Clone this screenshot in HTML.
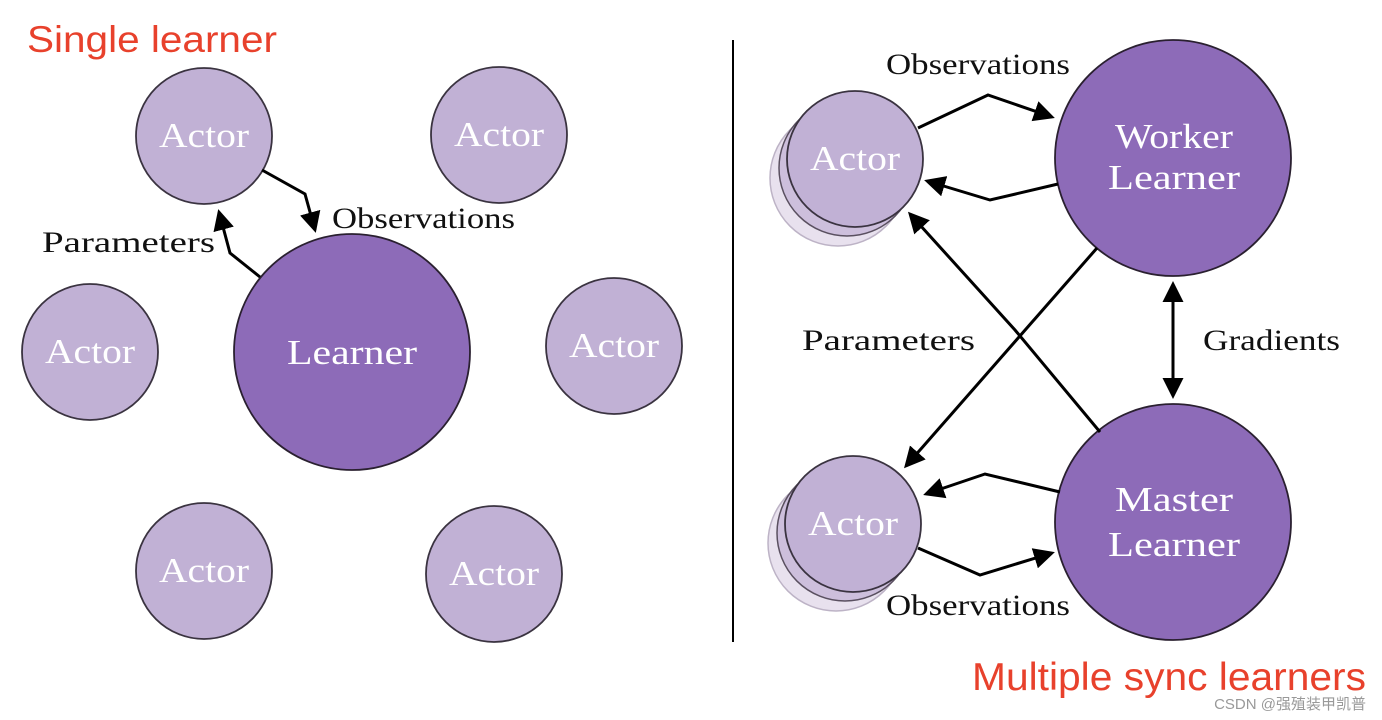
<!DOCTYPE html>
<html><head><meta charset="utf-8"><style>
html,body{margin:0;padding:0;background:#fff;}
svg{display:block;}
.a{fill:#c1b1d5;stroke:#3a3340;stroke-width:1.8;}
.l{fill:#8d6bb8;stroke:#2a2030;stroke-width:1.8;}
.t{font-family:"Liberation Serif",serif;font-size:35px;fill:#fff;text-anchor:middle;}
.k{font-family:"Liberation Serif",serif;font-size:30px;fill:#111;}
.ar{fill:none;stroke:#000;stroke-width:3;marker-end:url(#h);}
</style></head><body>
<svg width="1382" height="720" viewBox="0 0 1382 720">
<defs><marker id="h" markerWidth="8" markerHeight="8" refX="6" refY="4" orient="auto" markerUnits="strokeWidth"><path d="M0,0.5 L7,4 L0,7.5 z" fill="#000"/></marker>
<marker id="hs" markerWidth="8" markerHeight="8" refX="1" refY="4" orient="auto" markerUnits="strokeWidth"><path d="M7,0.5 L0,4 L7,7.5 z" fill="#000"/></marker></defs>
<text x="27" y="52" font-family="Liberation Sans,sans-serif" font-size="37" fill="#e8412c" textLength="250" lengthAdjust="spacingAndGlyphs">Single learner</text>
<text x="972" y="690" font-family="Liberation Sans,sans-serif" font-size="39" fill="#e8412c" textLength="394" lengthAdjust="spacingAndGlyphs">Multiple sync learners</text>
<text x="1366" y="709" text-anchor="end" font-family="Liberation Sans,'Noto Sans CJK SC',sans-serif" font-size="15" fill="#999">CSDN @强殖装甲凯普</text>
<line x1="733" y1="40" x2="733" y2="642" stroke="#000" stroke-width="2"/>
<!-- left -->
<circle class="a" cx="204" cy="136" r="68"/><text class="t" x="204" y="147" textLength="90" lengthAdjust="spacingAndGlyphs">Actor</text>
<circle class="a" cx="499" cy="135" r="68"/><text class="t" x="499" y="146" textLength="90" lengthAdjust="spacingAndGlyphs">Actor</text>
<circle class="a" cx="90" cy="352" r="68"/><text class="t" x="90" y="363" textLength="90" lengthAdjust="spacingAndGlyphs">Actor</text>
<circle class="a" cx="614" cy="346" r="68"/><text class="t" x="614" y="357" textLength="90" lengthAdjust="spacingAndGlyphs">Actor</text>
<circle class="a" cx="204" cy="571" r="68"/><text class="t" x="204" y="582" textLength="90" lengthAdjust="spacingAndGlyphs">Actor</text>
<circle class="a" cx="494" cy="574" r="68"/><text class="t" x="494" y="585" textLength="90" lengthAdjust="spacingAndGlyphs">Actor</text>
<circle class="l" cx="352" cy="352" r="118"/><text class="t" x="352" y="364" textLength="130" lengthAdjust="spacingAndGlyphs">Learner</text>
<polyline class="ar" points="262,170 305,194 315,230"/>
<polyline class="ar" points="260,277 230,253 219,212"/>
<text class="k" x="332" y="228" textLength="183" lengthAdjust="spacingAndGlyphs">Observations</text>
<text class="k" x="42" y="252" textLength="173" lengthAdjust="spacingAndGlyphs">Parameters</text>
<!-- right -->
<circle cx="838" cy="178" r="68" fill="#e8e1ee" stroke="#bdb3c6" stroke-width="1.5"/>
<circle cx="847" cy="168" r="68" fill="#cdbfdc" stroke="#5a5060" stroke-width="1.5"/>
<circle class="a" cx="855" cy="159" r="68"/><text class="t" x="855" y="170" textLength="90" lengthAdjust="spacingAndGlyphs">Actor</text>
<circle cx="836" cy="543" r="68" fill="#e8e1ee" stroke="#bdb3c6" stroke-width="1.5"/>
<circle cx="845" cy="533" r="68" fill="#cdbfdc" stroke="#5a5060" stroke-width="1.5"/>
<circle class="a" cx="853" cy="524" r="68"/><text class="t" x="853" y="535" textLength="90" lengthAdjust="spacingAndGlyphs">Actor</text>
<circle class="l" cx="1173" cy="158" r="118"/><text class="t" x="1174" y="148" textLength="118" lengthAdjust="spacingAndGlyphs">Worker</text><text class="t" x="1174" y="189" textLength="132" lengthAdjust="spacingAndGlyphs">Learner</text>
<circle class="l" cx="1173" cy="522" r="118"/><text class="t" x="1174" y="511" textLength="118" lengthAdjust="spacingAndGlyphs">Master</text><text class="t" x="1174" y="556" textLength="132" lengthAdjust="spacingAndGlyphs">Learner</text>
<polyline class="ar" points="918,128 988,95 1052,117"/>
<polyline class="ar" points="1058,184 990,200 927,181"/>
<polyline class="ar" points="1097,248 906,466"/>
<polyline class="ar" points="1100,432 1015,330 910,214"/>
<line x1="1173" y1="284" x2="1173" y2="396" stroke="#000" stroke-width="3" marker-end="url(#h)" marker-start="url(#hs)"/>
<polyline class="ar" points="1060,492 985,474 926,494"/>
<polyline class="ar" points="918,548 980,575 1052,553"/>
<text class="k" x="886" y="74" textLength="184" lengthAdjust="spacingAndGlyphs">Observations</text>
<text class="k" x="886" y="615" textLength="184" lengthAdjust="spacingAndGlyphs">Observations</text>
<text class="k" x="802" y="350" textLength="173" lengthAdjust="spacingAndGlyphs">Parameters</text>
<text class="k" x="1203" y="350" textLength="137" lengthAdjust="spacingAndGlyphs">Gradients</text>
</svg>
</body></html>
